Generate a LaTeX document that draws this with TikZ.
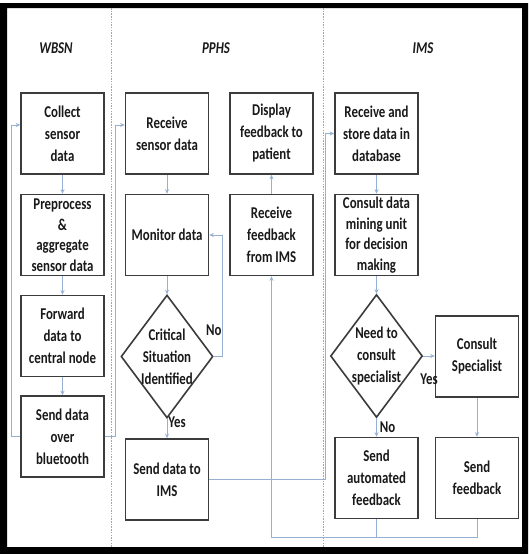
\documentclass[tikz,border=0pt]{standalone}
\usepackage{fontspec}
\setmainfont[FakeStretch=0.78]{Carlito}
\usetikzlibrary{arrows.meta, shapes.geometric}
\definecolor{flowblue}{RGB}{150,176,212}
\definecolor{boxgray}{RGB}{60,60,60}

\begin{document}
\begin{tikzpicture}[x=1pt, y=-1pt,
    font=\fontsize{16.5}{22}\selectfont\bfseries,
    box/.style={draw=boxgray, line width=1.6pt, minimum width=83pt, minimum height=81pt, align=center, inner sep=1pt, text=black!90},
    tight/.style={font=\fontsize{16.5}{20.5}\selectfont\bfseries, inner sep=0pt},
    decide/.style={diamond, draw=boxgray, line width=1.6pt, minimum width=92pt, minimum height=123pt, inner sep=0pt},
    flow/.style={draw=flowblue, line width=0.9pt, -{Stealth[length=4.5pt,width=4pt]}},
    link/.style={draw=flowblue, line width=0.9pt},
    lbl/.style={inner sep=1pt, text=black!90},
    head/.style={font=\fontsize{16.5}{22}\selectfont\bfseries\itshape, text=black!90},
    lane/.style={gray!70, line width=0.8pt, dash pattern=on 1.5pt off 1.2pt}]
    \useasboundingbox (0,0) rectangle (528,554);
    \fill[white] (0,0) rectangle (528,554);
    \fill[black, even odd rule] (0,3) rectangle (528,554) (7,8) rectangle (522,547);
    % swim lanes
    \draw[lane] (111,8) -- (111,547);
    \draw[lane] (323,8) -- (323,547);
    \node[head] (hwbsn) at (56,48) {WBSN};
    \node[head] (hpphs) at (216,48) {PPHS};
    \node[head] (hims) at (423,48) {IMS};
    % WBSN
    \node[box] (collect) at (62.5,133.5) {Collect\\sensor\\data};
    \node[box, tight] (prep) at (62.5,235) {Preprocess\\\&\\aggregate\\sensor data};
    \node[box] (fwd) at (62.5,336) {Forward\\data to\\central node};
    \node[box] (bt) at (62.5,436.5) {Send data\\over\\bluetooth};
    % PPHS
    \node[box] (recv) at (167,133.5) {Receive\\sensor data};
    \node[box] (monitor) at (167,235) {Monitor data};
    \node[decide, label={[lbl, align=center]center:Critical\\Situation\\Identified}] (crit) at (167,356.5) {};
    \node[box] (toims) at (167,479.5) {Send data to\\IMS};
    \node[box] (display) at (271.5,133.5) {Display\\feedback to\\patient};
    \node[box] (getfb) at (271.5,235) {Receive\\feedback\\from IMS};
    % IMS
    \node[box] (store) at (376.5,133.5) {Receive and\\store data in\\database};
    \node[box, tight] (mining) at (376.5,235) {Consult data\\mining unit\\for decision\\making};
    \node[decide, label={[lbl, align=center]center:Need to\\consult\\specialist}] (need) at (376.5,356) {};
    \node[box] (spec) at (477,356.5) {Consult\\Specialist};
    \node[box] (auto) at (376.5,478) {Send\\automated\\feedback};
    \node[box] (sendfb) at (477,478) {Send\\feedback};
    % connectors
    \draw[flow] (collect) -- (prep);
    \draw[flow] (prep) -- (fwd);
    \draw[flow] (fwd) -- (bt);
    \draw[flow] (bt.west) -- ++(-9,0) |- ([yshift=8.5pt]collect.west);
    \draw[flow] (bt.east) -- ++(11,0) |- ([yshift=8.5pt]recv.west);
    \draw[flow] (recv) -- (monitor);
    \draw[flow] (monitor) -- (crit);
    \draw[flow] (crit.east) -- ++(9,0) |- (monitor.east);
    \node[lbl, above=20pt] (no1) at (crit.east) {No};
    \draw[flow] (crit) -- node[lbl, right, pos=0.2] (yes1) {Yes} (toims);
    \draw[flow] (toims.east) -- ++(116,0) |- (store.west);
    \draw[flow] (store) -- (mining);
    \draw[flow] (mining) -- (need);
    \draw[flow] (need.east) -- node[lbl, below=16pt] (yes2) {Yes} (need.east -| spec.west);
    \draw[flow] (need) -- node[lbl, right, xshift=2pt] (no2) {No} (auto);
    \draw[flow] (spec) -- (sendfb);
    \draw[link] (auto.south) -- ++(0,18);
    \draw[flow] (sendfb.south) -- ++(0,18) -| (getfb.south);
    \draw[flow] (getfb) -- (display);
\end{tikzpicture}
\end{document}
